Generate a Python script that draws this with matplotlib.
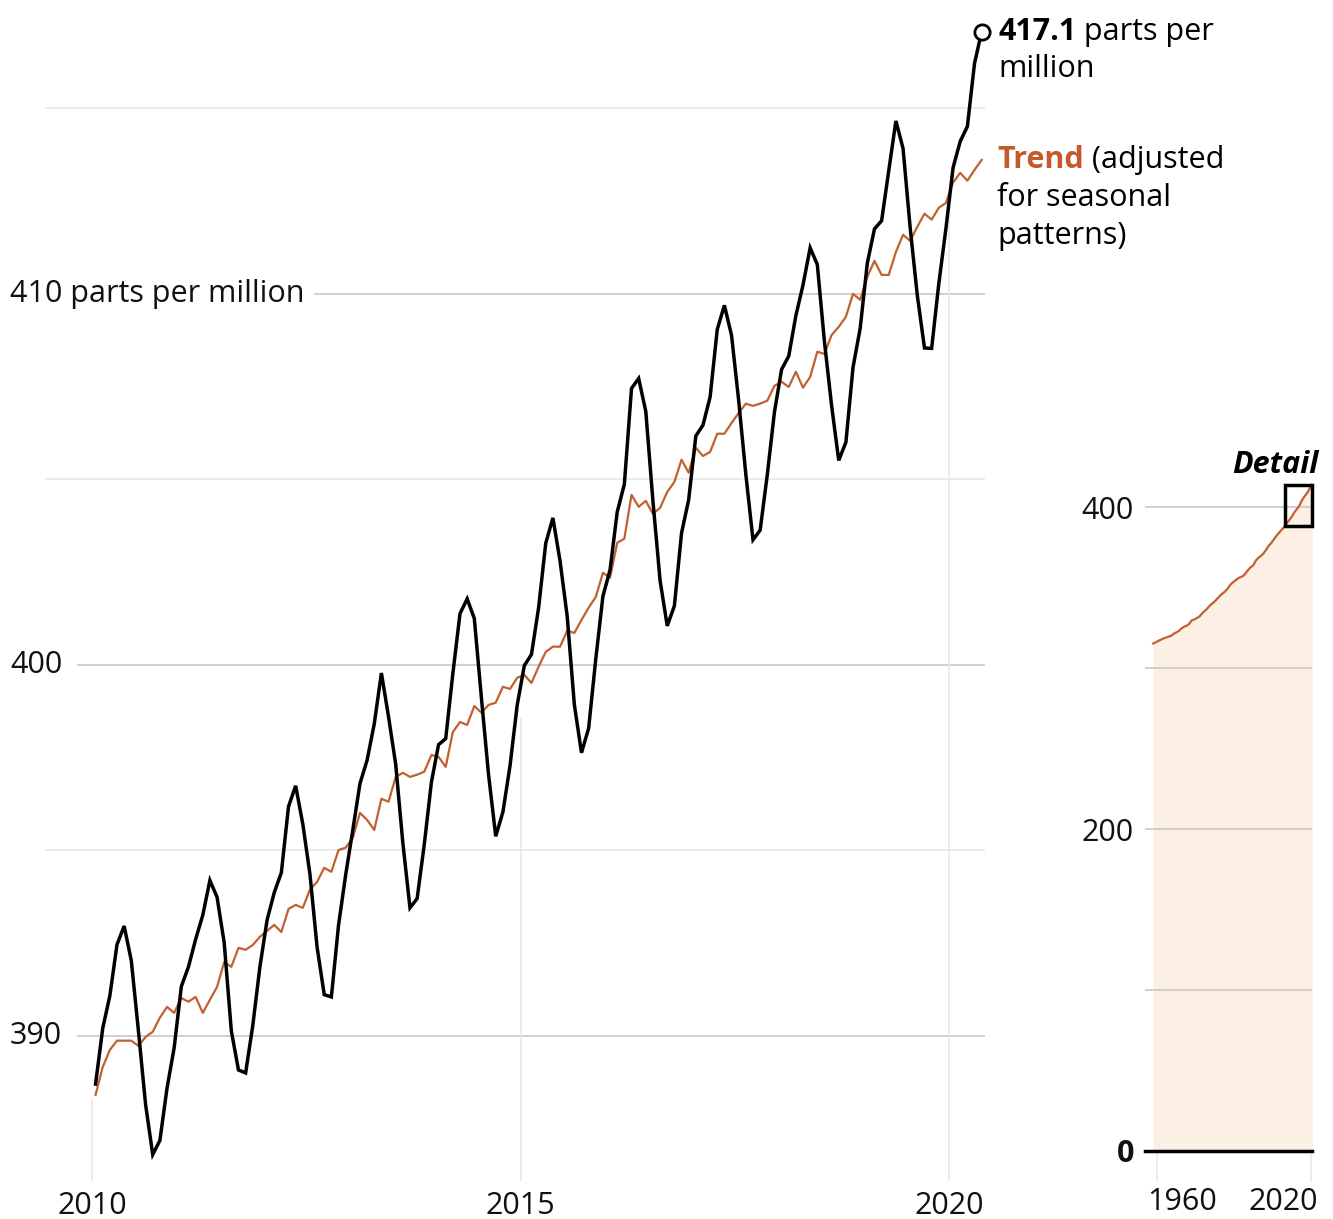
import matplotlib
matplotlib.use("Agg")
import matplotlib.pyplot as plt
from matplotlib.patches import Rectangle
from matplotlib.transforms import blended_transform_factory, ScaledTranslation
import numpy as np

# Mauna Loa monthly CO2 (ppm), Jan 2010 - May 2020
co2_monthly = (
    [388.70, 390.20, 391.08, 392.46, 392.96, 392.03, 390.13, 388.15, 386.80, 387.18, 388.59, 389.68]  # 2010
    + [391.33, 391.86, 392.60, 393.25, 394.19, 393.74, 392.51, 390.13, 389.08, 389.00, 390.28, 391.86]  # 2011
    + [393.12, 393.86, 394.40, 396.18, 396.74, 395.71, 394.36, 392.39, 391.11, 391.05, 392.98, 394.34]  # 2012
    + [395.55, 396.80, 397.43, 398.41, 399.78, 398.60, 397.32, 395.20, 393.45, 393.70, 395.16, 396.84]  # 2013
    + [397.85, 398.01, 399.77, 401.38, 401.78, 401.25, 399.10, 397.03, 395.38, 396.03, 397.28, 398.91]  # 2014
    + [399.98, 400.28, 401.54, 403.28, 403.96, 402.80, 401.31, 398.93, 397.63, 398.29, 400.16, 401.85]  # 2015
    + [402.56, 404.12, 404.87, 407.45, 407.72, 406.83, 404.41, 402.27, 401.05, 401.59, 403.55, 404.45]  # 2016
    + [406.17, 406.46, 407.22, 409.04, 409.69, 408.88, 407.12, 405.13, 403.37, 403.63, 405.12, 406.81]  # 2017
    + [407.96, 408.32, 409.41, 410.24, 411.24, 410.79, 408.71, 406.99, 405.51, 406.00, 408.02, 409.07]  # 2018
    + [410.83, 411.75, 411.97, 413.32, 414.66, 413.92, 411.77, 409.95, 408.54, 408.53, 410.27, 411.76]  # 2019
    + [413.40, 414.11, 414.51, 416.21, 417.07]  # 2020
)

# seasonally adjusted trend (ppm), same months
co2_trend = (
    [388.41, 389.16, 389.62, 389.87, 389.87, 389.87, 389.73, 389.97, 390.11, 390.49, 390.78, 390.62]
    + [391.02, 390.92, 391.05, 390.62, 390.97, 391.32, 391.99, 391.86, 392.37, 392.32, 392.45, 392.67]
    + [392.83, 392.99, 392.80, 393.42, 393.53, 393.45, 393.94, 394.15, 394.53, 394.42, 395.01, 395.07]
    + [395.34, 396.01, 395.82, 395.55, 396.39, 396.31, 396.98, 397.09, 396.98, 397.04, 397.12, 397.57]
    + [397.52, 397.25, 398.19, 398.46, 398.38, 398.89, 398.71, 398.92, 398.98, 399.41, 399.35, 399.65]
    + [399.73, 399.51, 399.95, 400.35, 400.49, 400.49, 400.92, 400.86, 401.21, 401.54, 401.83, 402.48]
    + [402.35, 403.29, 403.40, 404.58, 404.26, 404.42, 404.07, 404.23, 404.66, 404.93, 405.53, 405.18]
    + [405.85, 405.63, 405.74, 406.23, 406.23, 406.52, 406.79, 407.04, 406.98, 407.04, 407.12, 407.52]
    + [407.63, 407.49, 407.90, 407.47, 407.76, 408.44, 408.38, 408.89, 409.11, 409.38, 410.00, 409.84]
    + [410.46, 410.89, 410.51, 410.51, 411.13, 411.59, 411.43, 411.81, 412.16, 412.00, 412.32, 412.45]
    + [413.00, 413.26, 413.05, 413.34, 413.61]
)

start_year = 2010
x_ticks = [2010, 2015, 2020]
y_major = [390, 400, 410]
y_minor = [395, 405, 415]
y_labels = ["390", "400", "410 parts per million"]

# long record for the small inset (annual trend, ppm)
long_years = list(range(1958, 2021))
long_trend = [315.3, 315.98, 316.91, 317.64, 318.45, 318.99, 319.62, 320.04, 321.37, 322.18,
              323.05, 324.62, 325.68, 326.32, 327.46, 329.68, 330.19, 331.13, 332.03, 333.84,
              335.41, 336.84, 338.76, 340.12, 341.48, 343.15, 344.87, 346.35, 347.61, 349.31,
              351.69, 353.20, 354.45, 355.70, 356.54, 357.21, 358.96, 360.97, 362.74, 363.88,
              366.84, 368.54, 369.71, 371.32, 373.45, 375.98, 377.70, 379.98, 382.09, 384.02,
              385.83, 387.64, 390.10, 391.85, 394.06, 396.74, 398.81, 401.01, 404.41, 406.76,
              408.72, 411.66, 414.24]
inset_ticks = [0, 100, 200, 300, 400]
inset_tick_labels = ["0", "", "200", "", "400"]
inset_x_ticks = [1960, 2020]

ORANGE = "#c0612f"
ORANGE_TEXT = "#c4592b"
PEACH = "#fcefe3"
GRID = "#cccccc"
GRID_LIGHT = "#e8e8e8"

plt.rcParams["font.family"] = ["Open Sans", "DejaVu Sans"]
FS = 22

W, H = 1333, 1219
fig = plt.figure(figsize=(W / 100, H / 100), dpi=100)


def fig_rect(left, top, right, bottom):
    return [left / W, 1 - bottom / H, (right - left) / W, (bottom - top) / H]


dates = start_year + (np.arange(len(co2_monthly)) + 0.5) / 12
co2 = np.array(co2_monthly)
trend = np.array(co2_trend)

# ---- main chart ----
ax = fig.add_axes(fig_rect(45, 0, 985, 1185))
ax.set_xlim(2009.452, 2020.414)
ax.set_ylim(385.98, 417.92)
for s in ax.spines.values():
    s.set_visible(False)
ax.set_yticks([])

for y in y_minor:
    ax.axhline(y, color=GRID_LIGHT, lw=1.2, zorder=1)
ax.axhline(y_major[0], xmin=0.035, color=GRID, lw=1.3, zorder=1)
ax.axhline(y_major[1], xmin=0.035, color=GRID, lw=1.3, zorder=1)
ax.axhline(y_major[2], xmin=0.287, color=GRID, lw=1.3, zorder=1)

ax.vlines(x_ticks, 386.1, [388.3, 398.6, 412.5], color=GRID_LIGHT, lw=1.2, zorder=1)

lab_tr = blended_transform_factory(fig.transFigure, ax.transData)
for y, lab in zip(y_major, y_labels):
    ax.text(10 / W, y, lab, transform=lab_tr, fontsize=FS, va="center", ha="left", color="#111111")

ax.set_xticks(x_ticks)
ax.set_xticklabels([str(x) for x in x_ticks], fontsize=FS, color="#111111")
ax.tick_params(axis="x", length=0, pad=4.5)

ax.plot(dates, trend, color=ORANGE, lw=1.6, zorder=3)
ax.plot(dates, co2, color="black", lw=2.5, zorder=4, solid_joinstyle="miter")
ax.plot(dates[-1], co2[-1], "o", ms=11, mfc="white", mec="black", mew=2.0, zorder=5, clip_on=False)

# annotations
t1 = ax.annotate(f"{co2[-1]:.1f}", xy=(dates[-1], co2[-1]), xytext=(12, 0), textcoords="offset points",
                 fontsize=FS, fontweight="bold", va="center", ha="left", annotation_clip=False)
ax.annotate(" parts per", xy=(1, 0), xycoords=t1, va="bottom", ha="left", fontsize=FS,
            annotation_clip=False)
ax.annotate("million", xy=(dates[-1], co2[-1]), xytext=(12, -27), textcoords="offset points",
            fontsize=FS, va="center", ha="left", annotation_clip=False)

t2 = ax.annotate("Trend", xy=(dates[-1], trend[-1]), xytext=(11, 0), textcoords="offset points",
                 fontsize=FS, fontweight="bold", color=ORANGE_TEXT, va="center", ha="left",
                 annotation_clip=False)
ax.annotate(" (adjusted", xy=(1, 0), xycoords=t2, va="bottom", ha="left", fontsize=FS,
            annotation_clip=False)
for i, line in enumerate(["for seasonal", "patterns)"]):
    ax.annotate(line, xy=(dates[-1], trend[-1]), xytext=(11, -27.4 * (i + 1)),
                textcoords="offset points", fontsize=FS, va="center", ha="left",
                annotation_clip=False)

# ---- inset: full record ----
ax2 = fig.add_axes(fig_rect(1145, 475, 1312, 1151))
ax2.set_xlim(1955.33, 2020.4)
ax2.set_ylim(0, 420)
for s in ax2.spines.values():
    s.set_visible(False)

lx = np.array(long_years) + 0.5
ax2.fill_between(lx, 0, long_trend, color=PEACH, lw=0, zorder=1)
for y in inset_ticks[1:]:
    ax2.axhline(y, color=GRID, lw=1.3, zorder=2)
ax2.plot(lx, long_trend, color=ORANGE, lw=1.6, zorder=3)
ax2.axhline(0, color="black", lw=2.5, zorder=4, clip_on=False)

ax2.set_yticks(inset_ticks)
ax2.set_yticklabels(inset_tick_labels, fontsize=FS, color="#111111")
ax2.get_yticklabels()[0].set_fontweight("bold")
ax2.tick_params(axis="y", length=0, pad=8)

ax2.set_xticks(inset_x_ticks)
ax2.set_xticklabels([str(x) for x in inset_x_ticks], fontsize=FS, color="#111111")
ax2.tick_params(axis="x", length=22, width=1.1, color=GRID_LIGHT, pad=4)
xl = ax2.get_xticklabels()
xl[0].set_ha("left")
xl[0].set_transform(xl[0].get_transform() + ScaledTranslation(-10 / 100, 0, fig.dpi_scale_trans))
xl[1].set_ha("right")
xl[1].set_transform(xl[1].get_transform() + ScaledTranslation(7 / 100, 0, fig.dpi_scale_trans))

box = Rectangle((dates[0], trend.min()), dates[-1] - dates[0], trend.max() - trend.min(),
                fill=False, ec="black", lw=2.5, zorder=5, clip_on=False)
ax2.add_patch(box)
ax2.annotate("Detail", xy=(dates[-1], trend.max()), xytext=(4.5, 14.5), textcoords="offset points",
             fontsize=FS, fontweight="bold", fontstyle="italic", ha="right", va="center",
             annotation_clip=False)

fig.savefig("out.png", dpi=100)
